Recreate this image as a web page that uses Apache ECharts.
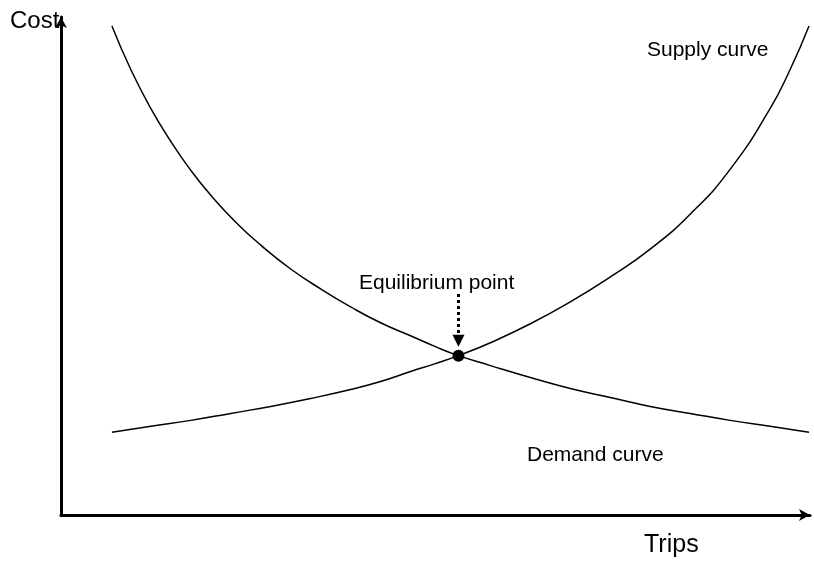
<!DOCTYPE html>
<html><head><meta charset="utf-8">
<script src="https://cdn.jsdelivr.net/npm/echarts@6/dist/echarts.min.js"></script>
<style>html,body{margin:0;padding:0;background:#fff}#c{width:814px;height:565px}</style>
</head><body><div id="c"></div>
<script>
// Trips (x) and cost (y) in arbitrary units
const demandX = [51, 70, 90, 110, 130, 150, 175, 200, 230, 260, 290, 320, 350, 375, 398, 430, 470, 510, 550, 590, 630, 670, 710, 749];
const demandY = [491, 447, 408, 375, 346, 321, 294, 271, 247, 227, 209, 193, 180, 169, 160, 150, 138, 127, 118, 109, 102, 95, 89, 83];
const supplyX = [51, 90, 130, 170, 210, 250, 290, 320, 350, 375, 398, 430, 470, 510, 550, 590, 630, 670, 710, 730, 749];
const supplyY = [83, 89, 95, 102, 109, 117, 126, 134, 144, 152, 160, 173, 192, 214, 239, 267, 302, 347, 408, 447, 491];
const equilibrium = [398, 160];
const arrowFrom = [398, 222];
const arrowTo = [398, 175];
const labels = { y: 'Cost', x: 'Trips', eq: 'Equilibrium point', supply: 'Supply curve', demand: 'Demand curve' };

const zip = (a, b) => a.map((v, i) => [v, b[i]]);
const font = '"Liberation Sans", Arial, sans-serif';
const chart = echarts.init(document.getElementById('c'), null, { renderer: 'canvas' });
const axisCommon = {
  type: 'value',
  axisLine: { show: true, symbol: ['none', 'arrow'], symbolSize: [9, 11], lineStyle: { color: '#000', width: 3 } },
  axisTick: { show: false }, axisLabel: { show: false }, splitLine: { show: false }
};
chart.setOption({
  animation: false,
  backgroundColor: '#fff',
  grid: { left: 61, right: 4, top: 17, bottom: 50 },
  xAxis: Object.assign({ min: 0, max: 750 }, axisCommon),
  yAxis: Object.assign({ min: 0, max: 500 }, axisCommon),
  series: [
    { type: 'line', data: zip(demandX, demandY), smooth: 0.5, symbol: 'none', lineStyle: { color: '#000', width: 1.5 } },
    { type: 'line', data: zip(supplyX, supplyY), smooth: 0.5, symbol: 'none', lineStyle: { color: '#000', width: 1.5 } },
    { type: 'scatter', data: [equilibrium], symbolSize: 12, itemStyle: { color: '#000', opacity: 1 },
      markLine: { silent: true, symbol: ['none', 'triangle'], symbolSize: [12, 12],
        label: { show: false }, lineStyle: { color: '#000', width: 3, type: 'dotted', opacity: 1 },
        data: [[{ coord: arrowFrom }, { coord: arrowTo }]] } }
  ],
  graphic: [
    { type: 'text', left: 10, top: 9, style: { text: labels.y, font: '24px ' + font, fill: '#000' } },
    { type: 'text', left: 644, top: 533, style: { text: labels.x, font: '25px ' + font, fill: '#000' } },
    { type: 'text', left: 359, top: 273, style: { text: labels.eq, font: '21px ' + font, fill: '#000' } },
    { type: 'text', left: 647, top: 40, style: { text: labels.supply, font: '21px ' + font, fill: '#000' } },
    { type: 'text', left: 527, top: 445, style: { text: labels.demand, font: '21px ' + font, fill: '#000' } }
  ]
});
</script></body></html>
